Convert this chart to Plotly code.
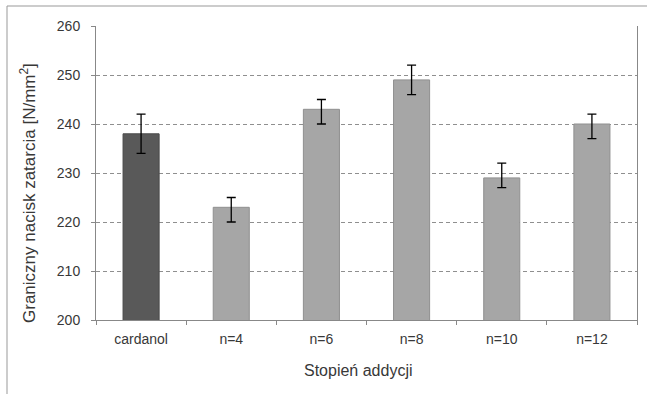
import plotly.graph_objects as go

categories = ["cardanol", "n=4", "n=6", "n=8", "n=10", "n=12"]
values = [238, 223, 243, 249, 229, 240]
err_plus = [4, 2, 2, 3, 3, 2]
err_minus = [4, 3, 3, 3, 2, 3]
bar_colors = ["#595959", "#a6a6a6", "#a6a6a6", "#a6a6a6", "#a6a6a6", "#a6a6a6"]
line_colors = ["#4a4a4a", "#8f8f8f", "#8f8f8f", "#8f8f8f", "#8f8f8f", "#8f8f8f"]
y_ticks = [200, 210, 220, 230, 240, 250, 260]

W, H = 647, 394
L, R, T, B = 96, 10, 26, 74
pw, ph = W - L - R, H - T - B

font = "Liberation Sans, Arial, sans-serif"
txt = "#383838"

fig = go.Figure(go.Bar(
    x=categories, y=values, width=0.4,
    marker=dict(color=bar_colors, line=dict(color=line_colors, width=1)),
    error_y=dict(type="data", symmetric=False, array=err_plus, arrayminus=err_minus,
                 color="#000000", thickness=1.3, width=4.5),
))

fig.update_layout(
    width=W, height=H,
    margin=dict(l=L, r=R, t=T, b=B, autoexpand=False),
    paper_bgcolor="white", plot_bgcolor="white",
    font=dict(family=font, size=14, color=txt),
    showlegend=False,
    xaxis=dict(
        type="category", showline=True, linecolor="#888888", linewidth=1,
        ticks="outside", tickson="boundaries", ticklen=4, tickcolor="#888888",
        showgrid=False, tickfont=dict(size=14, color=txt), ticklabelstandoff=6,
    ),
    yaxis=dict(
        range=[200, 260], tickvals=y_ticks, showline=True, mirror=True,
        linecolor="#888888", linewidth=1, ticks="outside", ticklen=4,
        tickcolor="#888888", showgrid=True, gridcolor="#8f8f8f", gridwidth=1,
        griddash="4px,3px", zeroline=False, tickfont=dict(size=14, color=txt),
        ticklabelstandoff=8,
    ),
    annotations=[
        dict(text="Graniczny nacisk zatarcia [N/mm<sup>2</sup>]", textangle=-90,
             xref="paper", yref="paper", x=(28 - L) / pw,
             y=1 - (193 - T) / ph,
             showarrow=False, font=dict(size=17, color=txt),
             xanchor="center", yanchor="middle"),
        dict(text="Stopień addycji", xref="paper", yref="paper",
             x=(358 - L) / pw, y=-(370 - (T + ph)) / ph, showarrow=False,
             font=dict(size=16, color=txt), xanchor="center", yanchor="middle"),
    ],
    shapes=[
        dict(type="rect", xref="paper", yref="paper",
             x0=(7 - L) / pw, x1=1.2, y0=-0.5, y1=1 + (T - 6) / ph,
             line=dict(color="#999999", width=1), layer="below"),
    ],
)

fig.write_html("out.html")
